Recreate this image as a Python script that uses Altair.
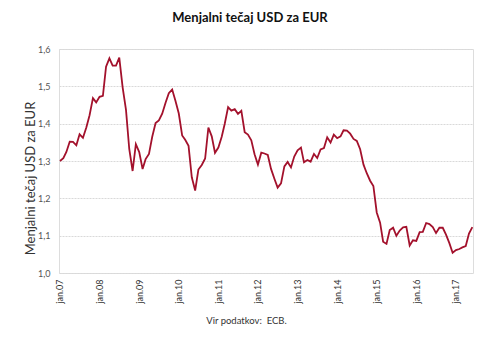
import altair as alt
import pandas as pd

# Monthly USD per EUR, Jan 2007 - Jun 2017
rates = [
    1.2999, 1.3074, 1.3242, 1.3516, 1.3511, 1.3419, 1.3716, 1.3622, 1.3896, 1.4227, 1.4684, 1.4570,
    1.4718, 1.4748, 1.5527, 1.5751, 1.5557, 1.5553, 1.5770, 1.4975, 1.4370, 1.3322, 1.2732, 1.3449,
    1.3239, 1.2785, 1.3050, 1.3190, 1.3650, 1.4016, 1.4088, 1.4268, 1.4562, 1.4816, 1.4914, 1.4614,
    1.4272, 1.3686, 1.3569, 1.3406, 1.2565, 1.2209, 1.2770, 1.2894, 1.3067, 1.3898, 1.3661, 1.3220,
    1.3360, 1.3649, 1.3999, 1.4442, 1.4349, 1.4388, 1.4264, 1.4343, 1.3770, 1.3706, 1.3556, 1.3179,
    1.2905, 1.3224, 1.3201, 1.3162, 1.2789, 1.2526, 1.2288, 1.2400, 1.2856, 1.2974, 1.2828, 1.3119,
    1.3288, 1.3359, 1.2964, 1.3026, 1.2982, 1.3189, 1.3080, 1.3310, 1.3348, 1.3635, 1.3493, 1.3704,
    1.3610, 1.3659, 1.3823, 1.3813, 1.3732, 1.3592, 1.3539, 1.3316, 1.2901, 1.2673, 1.2472, 1.2331,
    1.1621, 1.1350, 1.0838, 1.0779, 1.1150, 1.1213, 1.0996, 1.1139, 1.1221, 1.1235, 1.0736, 1.0877,
    1.0860, 1.1093, 1.1100, 1.1339, 1.1311, 1.1229, 1.1069, 1.1212, 1.1212, 1.1026, 1.0799, 1.0543,
    1.0614, 1.0643, 1.0685, 1.0723, 1.1058, 1.1229,
]
start_month = "2007-01-01"
tick_years = list(range(2007, 2018))
y_ticks = [1.0, 1.1, 1.2, 1.3, 1.4, 1.5, 1.6]

dates = pd.date_range(start_month, periods=len(rates), freq="MS").strftime("%Y-%m-%d")
df = pd.DataFrame({"date": dates, "rate": rates})

FONT = "Lato"

chart = (
    alt.Chart(df)
    .mark_line(color="#a3112c", strokeWidth=1.8)
    .encode(
        x=alt.X(
            "date:T",
            scale=alt.Scale(domain=[alt.DateTime(year=2006, month=12, date=23),
                                    alt.DateTime(year=2017, month=6, date=7)]),
            axis=alt.Axis(
                values=[alt.DateTime(year=y, month=1, date=1) for y in tick_years],
                labelExpr="'jan.' + timeFormat(datum.value, '%y')",
                labelAngle=270,
                labelFontSize=9,
                labelColor="#333333",
                labelPadding=6,
                labelFont=FONT,
                ticks=False,
                domain=False,
                grid=False,
                title="Vir podatkov:\u00a0\u00a0ECB.",
                titleFont=FONT,
                titleFontSize=9.5,
                titleFontWeight="normal",
                titleColor="#333333",
                titleX=187,
                titleY=47,
                titleAlign="center",
                titleBaseline="middle",
            ),
        ),
        y=alt.Y(
            "rate:Q",
            scale=alt.Scale(domain=[1.0, 1.6], nice=False, zero=False),
            axis=alt.Axis(
                values=y_ticks,
                labelExpr="replace(format(datum.value, '.1f'), '.', ',')",
                labelFontSize=9,
                labelColor="#555555",
                labelPadding=9,
                labelFont=FONT,
                ticks=False,
                domain=False,
                grid=True,
                gridColor="#d9d9d9",
                gridDash=[2, 1],
                title="Menjalni tečaj USD za EUR",
                titleFont=FONT,
                titleFontSize=13,
                titleFontWeight="normal",
                titleColor="#333333",
                titleAngle=270,
                titleX=-29,
                titleY=129,
                titleAlign="center",
                titleBaseline="middle",
            ),
        ),
    )
    .properties(
        width=414,
        height=224,
        title=alt.TitleParams(
            "Menjalni tečaj USD za EUR",
            font=FONT,
            fontSize=13,
            fontWeight="bold",
            color="#111111",
            anchor="middle",
            frame="bounds",
            offset=20,
        ),
        autosize=alt.AutoSizeParams(type="none"),
        padding={"left": 59, "top": 49, "right": 17, "bottom": 65},
    )
    .configure_view(stroke="#a6a6a6", strokeWidth=1)
    .configure(background="white")
)

chart.save("out.html", embed_options={"renderer": "svg", "actions": False})
